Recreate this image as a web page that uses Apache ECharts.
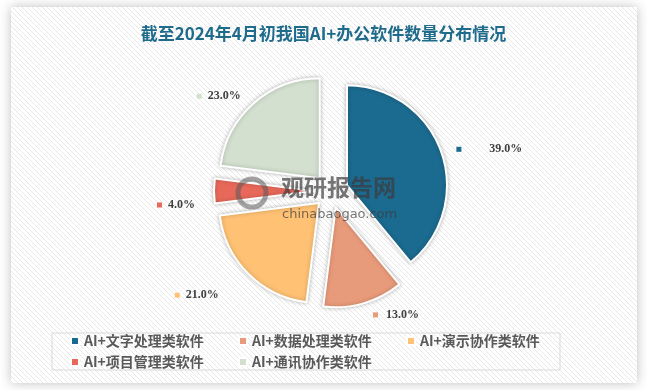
<!DOCTYPE html>
<html>
<head>
<meta charset="utf-8">
<script src="https://cdn.jsdelivr.net/npm/echarts@6/dist/echarts.min.js"></script>
<style>
html,body{margin:0;padding:0;background:#fff;}
#c{width:647px;height:390px;}
</style>
</head>
<body>
<div id="c"></div>
<script>
var categories = ['AI+文字处理类软件', 'AI+数据处理类软件', 'AI+演示协作类软件', 'AI+项目管理类软件', 'AI+通讯协作类软件'];
var values = [39.0, 13.0, 21.0, 4.0, 23.0];
var colors = ['#1b6a8f', '#e89b7a', '#ffc274', '#e8695a', '#d3e0cf'];
var titleText = '截至2024年4月初我国AI+办公软件数量分布情况';
// label styling: gap between key and text, and small nudges
var labelGap = [28, 8, 6, 6, 6];
var labelNudge = [[-8, 2], [-6, 0], [-9, 13], [5, 14], [7, 2]];

// hatch pattern
var tile = document.createElement('canvas');
tile.width = 5; tile.height = 5;
var tctx = tile.getContext('2d');
var img = tctx.createImageData(5, 5);
for (var y = 0; y < 5; y++) {
  for (var x = 0; x < 5; x++) {
    var i = (y * 5 + x) * 4;
    var on = ((x - y) % 5 + 5) % 5 === 0;
    var v = on ? 232 : 255;
    img.data[i] = v; img.data[i + 1] = v; img.data[i + 2] = v; img.data[i + 3] = 255;
  }
}
tctx.putImageData(img, 0, 0);

var rich = {};
colors.forEach(function (c, i) {
  rich['m' + i] = { width: 5, height: 5, backgroundColor: c };
  rich['t' + i] = { fontFamily: 'Liberation Serif', fontWeight: 'bold', fontSize: 12, color: '#404040', padding: [0, 0, 0, labelGap[i]] };
});

var chart = echarts.init(document.getElementById('c'));
chart.setOption({
  animation: false,
  backgroundColor: '#ffffff',
  color: colors,
  title: {
    text: titleText,
    left: 'center',
    top: 20,
    textStyle: { fontFamily: 'Noto Sans CJK SC', fontWeight: 'bold', fontSize: 17, color: '#1f6b8c' }
  },
  legend: {
    left: 70,
    top: 333,
    width: 510,
    padding: 0,
    itemGap: 5,
    itemWidth: 8,
    itemHeight: 8,
    icon: 'rect',
    selectedMode: false,
    textStyle: { fontFamily: 'Noto Sans CJK SC', fontWeight: 'bold', fontSize: 14, color: '#595959', width: 149, lineHeight: 16 },
    data: categories
  },
  graphic: {
    elements: [
      {
        type: 'rect', z: -10, silent: true,
        shape: { x: 11, y: 7, width: 626, height: 376 },
        style: { fill: { image: tile, repeat: 'repeat' }, shadowBlur: 12, shadowColor: 'rgba(0,0,0,0.25)' }
      },
      {
        type: 'rect', z: -5, silent: true,
        shape: { x: 52, y: 333, width: 508, height: 37 },
        style: { fill: 'rgba(0,0,0,0)', stroke: '#d9d9d9', lineWidth: 1 }
      },
      {
        type: 'circle', z: 100, silent: true,
        shape: { cx: 252, cy: 193, r: 14 },
        style: { fill: 'none', stroke: 'rgba(90,90,90,0.55)', lineWidth: 5 }
      },
      {
        type: 'text', z: 100, silent: true,
        style: { x: 281, y: 176, text: '观研报告网', font: 'bold 23px "Noto Sans CJK SC"', fill: 'rgba(60,60,60,0.7)' }
      },
      {
        type: 'text', z: 100, silent: true,
        style: { x: 282, y: 208, text: 'chinabaogao.com', font: '13px "DejaVu Sans"', fill: 'rgba(60,60,60,0.7)' }
      }
    ]
  },
  series: [{
    type: 'pie',
    center: [331, 191],
    radius: [0, 100],
    startAngle: 90,
    clockwise: true,
    selectedMode: 'multiple',
    selectedOffset: 17,
    avoidLabelOverlap: false,
    itemStyle: { borderColor: '#ffffff', borderWidth: 2, shadowBlur: 4, shadowColor: 'rgba(0,0,0,0.25)' },
    select: { itemStyle: { borderColor: '#ffffff', borderWidth: 2 } },
    emphasis: { disabled: true },
    label: {
      show: true,
      position: 'outside',
      formatter: function (p) { return '{m' + p.dataIndex + '|}{t' + p.dataIndex + '|' + p.value.toFixed(1) + '%}'; },
      rich: rich
    },
    labelLine: { show: false, length: 12, length2: 7 },
    labelLayout: function (p) { return { dx: labelNudge[p.dataIndex][0], dy: labelNudge[p.dataIndex][1] }; },
    data: categories.map(function (n, i) { return { name: n, value: values[i], selected: true }; })
  }]
});
</script>
</body>
</html>
